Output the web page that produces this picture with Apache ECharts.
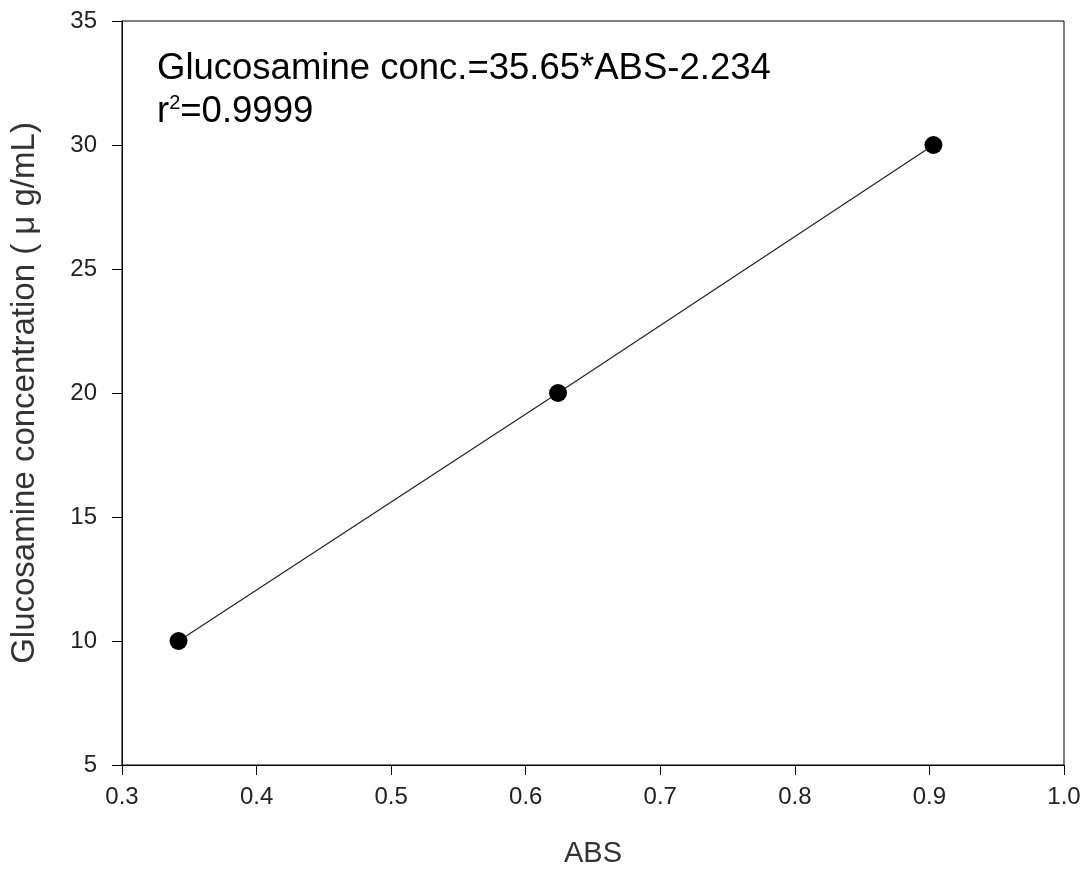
<!DOCTYPE html>
<html>
<head>
<meta charset="utf-8">
<script src="https://cdn.jsdelivr.net/npm/echarts@6/dist/echarts.min.js"></script>
<style>
  html, body { margin: 0; padding: 0; background: #fff; }
  #chart { width: 1089px; height: 877px; }
</style>
</head>
<body>
<div id="chart"></div>
<script>
// Standard curve: absorbance vs. glucosamine concentration
const absValues = [0.342, 0.624, 0.903];
const concValues = [10, 20, 30];
const equationText = 'Glucosamine conc.=35.65*ABS-2.234';
const r2Text = '=0.9999';

const FONT = '"Liberation Sans", Arial, sans-serif';
const chart = echarts.init(document.getElementById('chart'));

const points = absValues.map((x, i) => [x, concValues[i]]);

chart.setOption({
  backgroundColor: '#ffffff',
  animation: false,
  grid: {
    left: 121, top: 21, width: 943, height: 744,
    show: true, borderColor: '#000', borderWidth: 1, backgroundColor: 'transparent'
  },
  xAxis: {
    type: 'value', min: 0.3, max: 1.0, interval: 0.1,
    name: 'ABS', nameLocation: 'middle', nameGap: 74,
    nameTextStyle: { fontFamily: FONT, fontSize: 29, color: '#333' },
    axisLine: { show: true, lineStyle: { color: '#000', width: 1 } },
    axisTick: { show: true, length: 10, lineStyle: { color: '#000' } },
    axisLabel: { fontFamily: FONT, fontSize: 24, color: '#222', margin: 20,
      formatter: v => v.toFixed(1) },
    splitLine: { show: false }
  },
  yAxis: {
    type: 'value', min: 5, max: 35, interval: 5,
    name: 'Glucosamine concentration ( \u03bc g/mL)', nameLocation: 'middle', nameGap: 81,
    nameTextStyle: { fontFamily: FONT, fontSize: 33, color: '#333' },
    axisLine: { show: true, lineStyle: { color: '#000', width: 1 } },
    axisTick: { show: true, length: 10, lineStyle: { color: '#000' } },
    axisLabel: { fontFamily: FONT, fontSize: 24, color: '#222', margin: 25 },
    splitLine: { show: false }
  },
  graphic: [{
    type: 'text', left: 157, top: 50,
    style: {
      text: equationText, font: '36.5px ' + FONT, fill: '#000'
    }
  }, {
    type: 'text', left: 157, top: 93,
    style: {
      text: '{b|r}{s|2}{b|' + r2Text + '}',
      rich: {
        b: { font: '36.5px ' + FONT, fill: '#000', color: '#000' },
        s: { font: '20px ' + FONT, fill: '#000', color: '#000', verticalAlign: 'top', padding: [0, 0, 16, 0] }
      }
    }
  }],
  series: [{
    type: 'line',
    data: points,
    symbol: 'circle', symbolSize: 18,
    itemStyle: { color: '#000' },
    lineStyle: { color: '#222', width: 1.2 }
  }]
});
</script>
</body>
</html>
